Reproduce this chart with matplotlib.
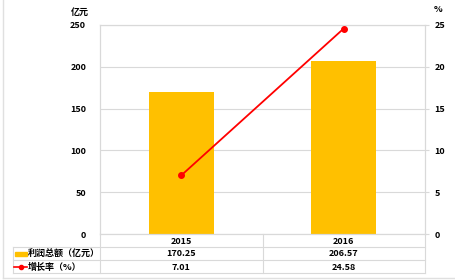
import matplotlib.pyplot as plt
from matplotlib.lines import Line2D
from matplotlib.patches import Rectangle

plt.rcParams['font.family'] = ['Noto Sans CJK SC', 'DejaVu Sans']

# Data
years = ["2015", "2016"]
profit = [170.25, 206.57]       # 利润总额（亿元）
growth = [7.01, 24.58]          # 增长率（%）
profit_label = "利润总额（亿元）"
growth_label = "增长率（%）"

W, H = 455, 280
fig = plt.figure(figsize=(W / 100, H / 100), dpi=100)

def fx(px):
    return px / W

def fy(py):
    return 1 - py / H

# plot area in pixels
L, R, T, B = 100, 425, 25, 234
ax = fig.add_axes([fx(L), fy(B), fx(R - L), (B - T) / H])
ax2 = ax.twinx()

grid_c = "#d9d9d9"
fs = 6.5

x = list(range(len(years)))
ax.bar(x, profit, width=0.4, color="#FFC000", zorder=2)
ax.set_xlim(-0.5, len(years) - 0.5)
ax.set_ylim(0, 250)
ax.set_yticks(range(0, 251, 50))
ax.yaxis.grid(True, color=grid_c, linewidth=0.8, zorder=0)
ax.set_axisbelow(True)
ax.set_xticks([])
ax.tick_params(axis='y', length=0, pad=10, labelsize=fs)

ax2.plot(x, growth, color="#FF0000", linewidth=1.3, marker="o", markersize=4, zorder=3)
ax2.set_ylim(0, 25)
ax2.set_yticks(range(0, 26, 5))
ax2.tick_params(axis='y', length=3, color=grid_c, pad=4, labelsize=fs)

for a in (ax, ax2):
    for s in a.spines.values():
        s.set_color(grid_c)
        s.set_linewidth(0.8)
    for lab in a.get_yticklabels():
        lab.set_fontweight("bold")

fig.text(fx(80), fy(12), "亿元", fontsize=fs, fontweight="bold", ha="center", va="center")
fig.text(fx(438), fy(9), "%", fontsize=fs, fontweight="bold", ha="center", va="center")

# data table below the chart
rows_y = [234, 247, 260, 273]
tbl_l = 13
line_kw = dict(color=grid_c, linewidth=0.8, transform=fig.transFigure)
for yy in rows_y[1:]:
    fig.add_artist(Line2D([fx(tbl_l), fx(R)], [fy(yy), fy(yy)], **line_kw))
fig.add_artist(Line2D([fx(tbl_l), fx(tbl_l)], [fy(247), fy(273)], **line_kw))
for xx in [L, (L + R) / 2, R]:
    fig.add_artist(Line2D([fx(xx), fx(xx)], [fy(234), fy(273)], **line_kw))

col_w = (R - L) / len(years)
for i, yr in enumerate(years):
    cx = L + col_w * (i + 0.5)
    fig.text(fx(cx), fy(241), yr, fontsize=fs, fontweight="bold", ha="center", va="center")
    fig.text(fx(cx), fy(254), f"{profit[i]:.2f}", fontsize=fs, fontweight="bold", ha="center", va="center")
    fig.text(fx(cx), fy(267), f"{growth[i]:.2f}", fontsize=fs, fontweight="bold", ha="center", va="center")

# legend keys
fig.add_artist(Rectangle((fx(15), fy(256)), fx(12), 4 / H, color="#FFC000", transform=fig.transFigure))
fig.text(fx(28), fy(254), profit_label, fontsize=fs, fontweight="bold", ha="left", va="center")
fig.add_artist(Line2D([fx(14), fx(20.5), fx(27)], [fy(267)] * 3, color="#FF0000", linewidth=1.2,
                      marker="o", markersize=3, markevery=[1], transform=fig.transFigure))
fig.text(fx(28), fy(267), growth_label, fontsize=fs, fontweight="bold", ha="left", va="center")

# outer frame
fig.add_artist(Line2D([fx(3), fx(3)], [fy(0), fy(278)], color="#e0e0e0", linewidth=1, transform=fig.transFigure))
fig.add_artist(Line2D([fx(3), fx(455)], [fy(278), fy(278)], color="#e0e0e0", linewidth=1, transform=fig.transFigure))

fig.savefig("out.png", dpi=100)
